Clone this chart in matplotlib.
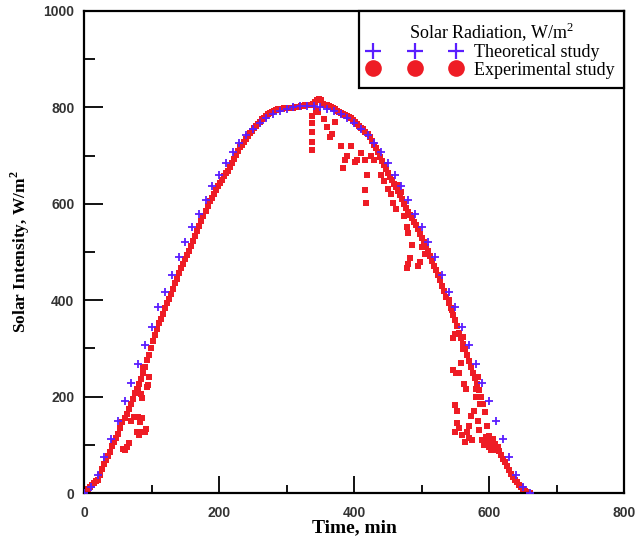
import numpy as np
import matplotlib
matplotlib.use("Agg")
import matplotlib.pyplot as plt
from matplotlib.lines import Line2D
from matplotlib.ticker import MultipleLocator

plt.rcParams['mathtext.fontset'] = 'custom'
plt.rcParams['mathtext.rm'] = 'Liberation Serif'
plt.rcParams['mathtext.bf'] = 'Liberation Serif:bold'

# ---------------- data ----------------
theo_time = [0, 10, 20, 30, 40, 50, 60, 70, 80, 90, 100, 110, 120, 130, 140, 150, 160, 170,
             180, 190, 200, 210, 220, 230, 240, 250, 260, 270, 280, 290, 300, 310, 320, 330,
             340, 350, 360, 370, 380, 390, 400, 410, 420, 430, 440, 450, 460, 470, 480, 490,
             500, 510, 520, 530, 540, 550, 560, 570, 580, 590, 600, 610, 620, 630, 640, 650, 660]
theo_value = [0, 12, 38, 75, 112, 150, 190, 228, 268, 308, 345, 385, 418, 452, 490, 520, 552, 578,
              608, 636, 660, 684, 708, 726, 742, 756, 768, 778, 786, 792, 797, 800, 802, 802,
              802, 800, 797, 792, 786, 778, 768, 756, 742, 726, 708, 684, 660, 636, 608, 578,
              552, 520, 490, 452, 418, 385, 345, 308, 268, 228, 190, 150, 112, 75, 38, 12, 0]

# experimental main trace, sampled every 3 min from 0 to 660 min
exp_time = list(range(0, 661, 3))
exp_value = [
    0, 3, 8, 12, 16, 20, 24, 28, 38, 50,
    60, 68, 76, 86, 97, 106, 114, 122, 135, 147,
    156, 164, 174, 185, 196, 207, 216, 226, 237, 249,
    262, 275, 286, 300, 315, 328, 340, 352, 362, 372,
    383, 394, 403, 413, 424, 435, 445, 456, 466, 476,
    486, 494, 502, 512, 522, 533, 543, 553, 564, 575,
    585, 595, 605, 613, 621, 628, 636, 643, 650, 657,
    663, 669, 677, 685, 693, 701, 709, 717, 723, 729,
    734, 740, 746, 752, 757, 762, 766, 770, 775, 779,
    783, 786, 789, 791, 793, 795, 796, 797, 797, 798,
    798, 799, 798, 799, 800, 801, 800, 802, 803, 804,
    805, 806, 806, 808, 812, 816, 818, 815, 808, 806,
    804, 802, 800, 798, 796, 793, 790, 788, 786, 784,
    782, 780, 777, 773, 769, 765, 762, 758, 755, 750,
    745, 738, 731, 723, 715, 707, 698, 689, 680, 672,
    664, 656, 649, 642, 635, 627, 618, 609, 600, 592,
    584, 577, 570, 563, 555, 547, 538, 529, 520, 511,
    502, 492, 482, 472, 462, 452, 441, 430, 419, 407,
    395, 383, 370, 358, 346, 333, 321, 309, 298, 286,
    274, 262, 250, 238, 226, 214, 200, 185, 168, 140,
    118, 110, 106, 102, 96, 88, 78, 70, 64, 56,
    48, 40, 33, 27, 22, 17, 12, 8, 4, 2,
    0]

# experimental scattered readings (cloud passages)
scat_time = [58, 61, 64, 67, 70, 74, 78, 80, 82, 83, 86, 88, 90, 92, 80, 84, 86, 93, 95, 87, 97,
             338, 338, 338, 338, 338, 343, 346, 355, 360, 364, 368, 372, 380, 384, 387, 390, 395,
             401, 405, 410, 416, 419, 416, 418, 425, 430, 440, 445, 450, 455, 458, 462, 465, 470,
             474, 478, 480, 486, 483, 478, 480, 498, 495, 500, 505,
             540, 545, 547, 550, 561, 562, 559, 547, 551, 556, 563, 566, 550, 553, 552, 550, 555,
             560, 565, 567, 570, 570, 573, 575, 578, 580, 581, 583, 584, 585, 587, 590, 593, 595,
             598, 600, 603, 606, 608, 610, 613]
scat_value = [92, 89, 95, 104, 150, 158, 127, 158, 120, 148, 155, 127, 127, 133, 214, 205, 197, 220, 224, 261, 240,
              783, 767, 749, 728, 712, 795, 790, 776, 760, 739, 745, 770, 720, 674, 691, 700, 720,
              687, 690, 705, 691, 660, 629, 602, 700, 690, 660, 648, 630, 620, 602, 590, 640, 625,
              575, 552, 539, 515, 488, 467, 475, 479, 470, 510, 495,
              400, 380, 321, 330, 324, 298, 270, 255, 250, 249, 226, 215, 182, 170, 145, 127, 135,
              120, 105, 127, 140, 115, 160, 110, 170, 200, 215, 150, 240, 130, 185, 110, 100, 116,
              105, 95, 90, 112, 100, 89, 95]

x_ticks = [0, 200, 400, 600, 800]
y_ticks = [0, 200, 400, 600, 800, 1000]

red = '#ee1c25'
blue = '#5a1eff'

fig = plt.figure(figsize=(6.35, 5.39), dpi=100)
ax = fig.add_axes([0.1323, 0.0853, 0.8504, 0.8943])

ax.plot(exp_time, exp_value, linestyle='none', marker='s', markersize=4.8,
        color=red, markeredgewidth=0, zorder=2)
ax.plot(scat_time, scat_value, linestyle='none', marker='s', markersize=4.6,
        color=red, markeredgewidth=0, zorder=2)
ax.plot(theo_time, theo_value, linestyle='none', marker='+', markersize=5.2,
        markeredgewidth=1.3, color=blue, zorder=3)

ax.set_xlim(0, 800)
ax.set_ylim(0, 1000)
ax.set_xticks(x_ticks)
ax.set_yticks(y_ticks)
ax.xaxis.set_minor_locator(MultipleLocator(100))
ax.yaxis.set_minor_locator(MultipleLocator(100))
ax.tick_params(axis='x', which='major', direction='in', length=12, width=1.3, pad=9)
ax.tick_params(axis='x', which='minor', direction='in', length=6, width=1.3)
ax.tick_params(axis='y', which='major', direction='in', length=14, width=1.3, pad=7)
ax.tick_params(axis='y', which='minor', direction='in', length=8, width=1.3)
for lab in ax.get_xticklabels() + ax.get_yticklabels():
    lab.set_fontfamily('Liberation Sans')
    lab.set_fontweight('bold')
    lab.set_fontsize(10)
    lab.set_color('#333333')
for s in ax.spines.values():
    s.set_linewidth(1.6)

ax.set_xlabel('Time, min', fontfamily='Liberation Serif', fontweight='bold', fontsize=14, labelpad=0)
ax.set_ylabel(r'Solar Intensity, W/m$^{\mathbf{2}}$', fontfamily='Liberation Serif',
              fontweight='bold', fontsize=12.5, labelpad=8)

h1 = Line2D([], [], linestyle='none', marker='+', markersize=12, markeredgewidth=1.6, color=blue)
h2 = Line2D([], [], linestyle='none', marker='o', markersize=12, markeredgewidth=0, color=red)
leg = ax.legend(handles=[h1, h2], labels=['Theoretical study', 'Experimental study'],
                title=r'Solar Radiation, W/m$^2$', loc='upper right', bbox_to_anchor=(1.0, 1.0),
                borderaxespad=0.0, numpoints=3, handlelength=5.2, handletextpad=0.7,
                labelspacing=0.05, borderpad=0.5, fancybox=False, framealpha=1,
                edgecolor='black', prop={'family': 'Liberation Serif', 'size': 13},
                title_fontproperties={'family': 'Liberation Serif', 'size': 13})
leg.get_frame().set_linewidth(1.6)

fig.savefig('out.png', dpi=100)
